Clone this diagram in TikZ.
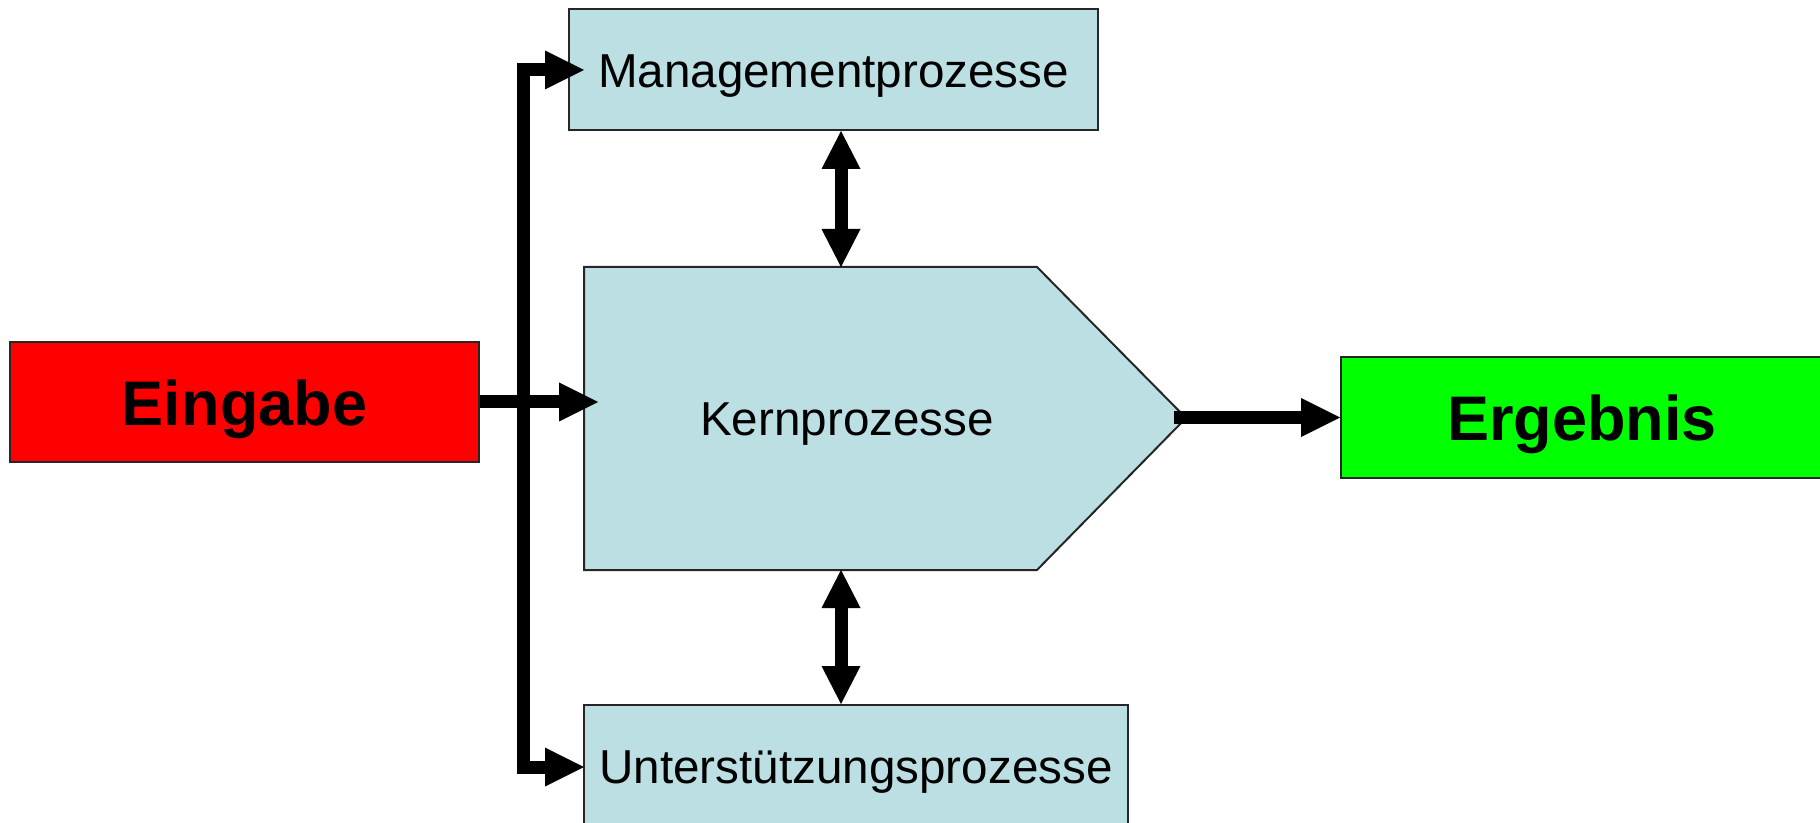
\documentclass[tikz,border=0pt]{standalone}
\usepackage{fontspec}
\setmainfont{Liberation Sans}
\usetikzlibrary{arrows.meta}
\definecolor{procblue}{HTML}{BBDFE3}
\definecolor{inred}{HTML}{FF0000}
\definecolor{outgreen}{HTML}{00FF00}
\newcommand{\lowtxt}[1]{\raisebox{-3.5pt}[\height][\depth]{#1}}
\begin{document}
\begin{tikzpicture}[x=0.5pt,y=-0.5pt,
  box/.style={draw=black!85, line width=1pt, rectangle, inner sep=0pt},
  proc/.style={box, fill=procblue, font=\fontsize{23.8}{28}\selectfont},
  io/.style={box, font=\bfseries\fontsize{31.5}{36}\selectfont},
  conn/.style={line width=6.5pt, line join=miter, -{Triangle[length=19.5pt,width=19.5pt,line width=0pt]}},
  biconn/.style={line width=6.5pt, {Triangle[length=19pt,width=19.5pt,line width=0pt]}-{Triangle[length=19pt,width=19.5pt,line width=0pt]}}]
\clip (0,0) rectangle (1820,823);
\fill[white] (0,0) rectangle (1820,823);
% boxes
\node[proc, minimum width=264.5pt, minimum height=60.5pt] (mgmt) at (833.5,69.5) {\lowtxt{Managementprozesse}};
\node[proc, minimum width=272pt, minimum height=60.5pt] (unter) at (856,765.5) {\lowtxt{Unterstützungsprozesse}};
\node[io, fill=inred, minimum width=234.5pt, minimum height=60pt] (eing) at (244.5,402) {\lowtxt{Eingabe}};
\node[io, fill=outgreen, minimum width=241pt, minimum height=60.5pt] (erg) at (1582,417.5) {\lowtxt{Ergebnis}};
% core process (pentagon arrow)
\draw[draw=black!85, line width=1pt, fill=procblue] (584,267) -- (1037,267) -- (1186,418) -- (1037,570) -- (584,570) -- cycle;
\node[font=\fontsize{23.8}{28}\selectfont] (kern) at (847,424) {Kernprozesse};
% named coordinates
\coordinate (kernN) at (841,267);
\coordinate (kernS) at (841,570);
\coordinate (kernin) at (598,402);
\coordinate (kernout) at (1174,417.5);
\coordinate (j) at (523,402);
\coordinate (mgmtin) at (584,70);
\coordinate (unterin) at (584,767);
% connectors
\draw[conn] (eing.east) -- (kernin);
\draw[conn] (j) |- (mgmtin);
\draw[conn] (j) |- (unterin);
\draw[biconn] (kernN |- mgmt.south) -- (kernN);
\draw[biconn] (kernS) -- (kernS |- unter.north);
\draw[conn] (kernout) -- (erg.west);
\end{tikzpicture}
\end{document}
